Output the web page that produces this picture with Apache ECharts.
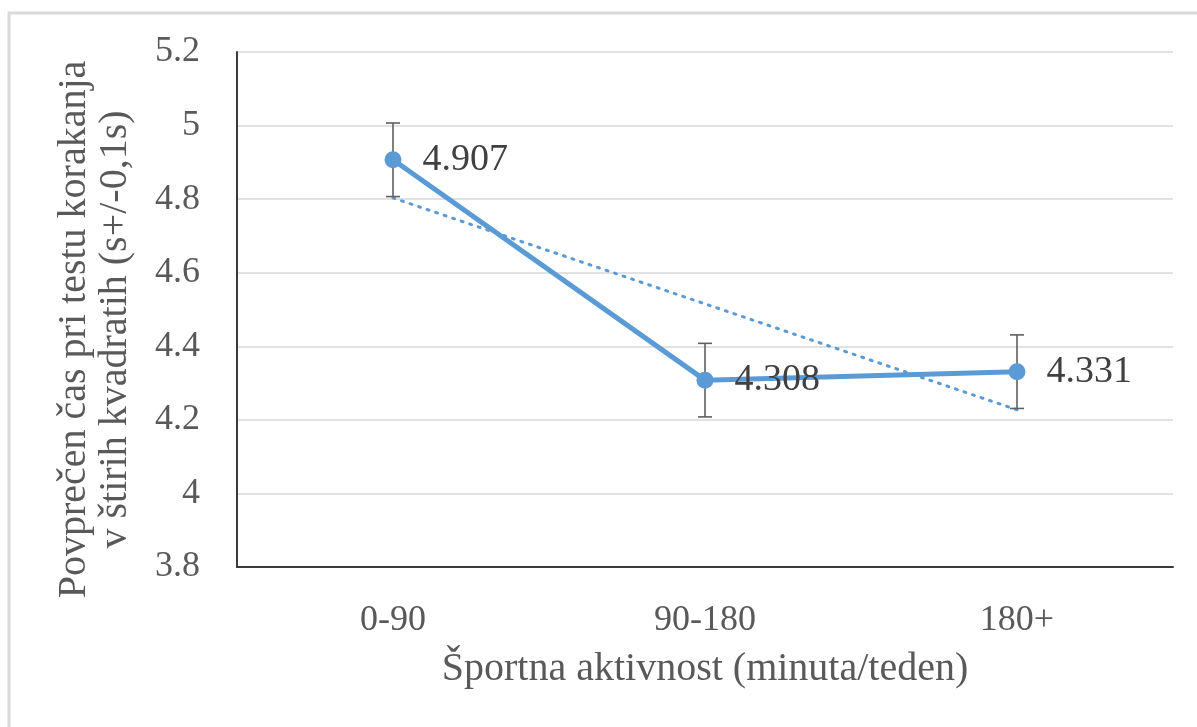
<!DOCTYPE html>
<html>
<head>
<meta charset="utf-8">
<script src="https://cdn.jsdelivr.net/npm/echarts@6/dist/echarts.min.js"></script>
<style>
  html, body { margin: 0; padding: 0; background: #fff; }
  #chart { width: 1197px; height: 727px; }
</style>
</head>
<body>
<div id="chart"></div>
<script>
// Mean step-test time by weekly sport activity, with ±0.1 s error bars
const categories = ['0-90', '90-180', '180+'];
const meanTimes = [4.907, 4.308, 4.331];
const errorMargin = [0.1, 0.1, 0.1];
const yTicks = [3.8, 4, 4.2, 4.4, 4.6, 4.8, 5, 5.2];

// Linear least-squares trend over category positions 1..n
function linearTrend(vals) {
  const n = vals.length;
  const xs = vals.map((_, i) => i + 1);
  const mx = xs.reduce((a, b) => a + b, 0) / n;
  const my = vals.reduce((a, b) => a + b, 0) / n;
  let sxy = 0, sxx = 0;
  for (let i = 0; i < n; i++) {
    sxy += (xs[i] - mx) * (vals[i] - my);
    sxx += (xs[i] - mx) * (xs[i] - mx);
  }
  const b = sxy / sxx;
  return xs.map(x => my + b * (x - mx));
}
const trend = linearTrend(meanTimes);

const FONT = '"Liberation Serif", "Times New Roman", serif';
const BLUE = '#5B9BD5';

const errorData = meanTimes.map((v, i) => [i, v - errorMargin[i], v + errorMargin[i]]);

const chart = echarts.init(document.getElementById('chart'), null, { renderer: 'canvas' });
chart.setOption({
  animation: false,
  backgroundColor: '#fff',
  textStyle: { fontFamily: FONT },
  graphic: [{
    type: 'rect',
    shape: { x: 9, y: 13, width: 1200, height: 730 },
    style: { fill: 'none', stroke: '#d9d9d9', lineWidth: 3 },
    silent: true,
    z: -1
  }],
  grid: { left: 237, right: 24, top: 52, bottom: 160 },
  xAxis: {
    type: 'category',
    data: categories,
    boundaryGap: true,
    name: 'Športna aktivnost (minuta/teden)',
    nameLocation: 'middle',
    nameGap: 82,
    nameTextStyle: { fontFamily: FONT, fontSize: 40, color: '#595959' },
    axisLine: { lineStyle: { color: '#3a3a3a', width: 2 } },
    axisTick: { show: false },
    axisLabel: { fontFamily: FONT, fontSize: 36, color: '#595959', margin: 36 },
    splitLine: { show: false }
  },
  yAxis: {
    type: 'value',
    min: yTicks[0],
    max: yTicks[yTicks.length - 1],
    interval: 0.2,
    name: 'Povprečen čas pri testu korakanja\nv štirih kvadratih (s+/-0,1s)',
    nameLocation: 'middle',
    nameGap: 101,
    nameTextStyle: {
      fontFamily: FONT, fontSize: 40, color: '#595959', lineHeight: 41,
      padding: [0, 40, 0, 0]
    },
    axisLine: { show: true, lineStyle: { color: '#3a3a3a', width: 2 } },
    axisTick: { show: false },
    axisLabel: {
      fontFamily: FONT, fontSize: 36, color: '#595959', margin: 37,
      formatter: v => String(Math.round(v * 10) / 10)
    },
    splitLine: { lineStyle: { color: '#d9d9d9', width: 1.5 } }
  },
  series: [
    {
      name: 'trend',
      type: 'line',
      data: trend,
      symbol: 'none',
      lineStyle: { color: BLUE, width: 3, type: [2, 7], cap: 'round' },
      silent: true,
      z: 1
    },
    {
      name: 'error',
      type: 'custom',
      data: errorData,
      renderItem: (params, api) => {
        const x = api.value(0);
        const lo = api.coord([x, api.value(1)]);
        const hi = api.coord([x, api.value(2)]);
        const cap = 7;
        const style = { stroke: '#5f5f5f', lineWidth: 1.6 };
        return {
          type: 'group',
          children: [
            { type: 'line', shape: { x1: lo[0], y1: lo[1], x2: hi[0], y2: hi[1] }, style },
            { type: 'line', shape: { x1: lo[0] - cap, y1: lo[1], x2: lo[0] + cap, y2: lo[1] }, style },
            { type: 'line', shape: { x1: hi[0] - cap, y1: hi[1], x2: hi[0] + cap, y2: hi[1] }, style }
          ]
        };
      },
      silent: true,
      z: 2
    },
    {
      name: 'mean',
      type: 'line',
      data: meanTimes,
      symbol: 'circle',
      symbolSize: 17,
      itemStyle: { color: BLUE },
      lineStyle: { color: BLUE, width: 5 },
      label: {
        show: true,
        position: 'right',
        distance: 21,
        fontFamily: FONT,
        fontSize: 38,
        color: '#404040',
        formatter: p => p.value.toFixed(3)
      },
      z: 3
    }
  ]
});
</script>
</body>
</html>
